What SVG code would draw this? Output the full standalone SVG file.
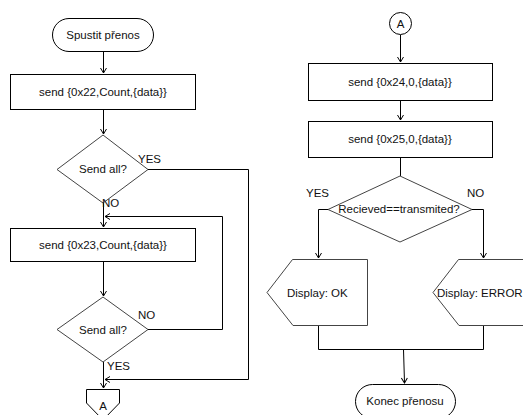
<svg xmlns="http://www.w3.org/2000/svg" width="523" height="415" viewBox="0 0 523 415">
<style>
  .shape { fill: #ffffff; stroke: #000000; stroke-width: 1; }
  .dia { fill: #ffffff; stroke: #444444; stroke-width: 1; }
  .line { fill: none; stroke: #000000; stroke-width: 1; }
  text { font-family: "Liberation Sans", Arial, sans-serif; font-size: 11.5px; fill: #111111; }
  .c { text-anchor: middle; }
</style>
<defs>
  <marker id="arr" markerWidth="8" markerHeight="8" refX="6" refY="4" orient="auto" markerUnits="userSpaceOnUse">
    <path d="M1,1 L6,4 L1,7" fill="none" stroke="#000" stroke-width="1"/>
  </marker>
</defs>
<rect width="523" height="415" fill="#ffffff"/>
<g id="connectors">
  <path class="line" d="M103.5,52 V73" marker-end="url(#arr)"/>
  <path class="line" d="M103.5,110 V134" marker-end="url(#arr)"/>
  <path class="line" d="M103.5,203 V227" marker-end="url(#arr)"/>
  <path class="line" d="M103.5,262 V296" marker-end="url(#arr)"/>
  <path class="line" d="M148,329.5 H222.5 V216.5 H105" marker-end="url(#arr)"/>
  <path class="line" d="M148,169.5 H248.5 V379.5 H105" marker-end="url(#arr)"/>
  <path class="line" d="M103.5,362 V388" marker-end="url(#arr)"/>
  <path class="line" d="M400.5,35 V62" marker-end="url(#arr)"/>
  <path class="line" d="M400.5,100 V120" marker-end="url(#arr)"/>
  <path class="line" d="M400.5,157 V176"/>
  <path class="line" d="M328,209.5 H318.5 V258" marker-end="url(#arr)"/>
  <path class="line" d="M472,209.5 H483.5 V258" marker-end="url(#arr)"/>
  <path class="line" d="M318.5,325 V349.5 H483.5 V325"/>
  <path class="line" d="M403.5,349.5 L404.5,383" marker-end="url(#arr)"/>
</g>
<g id="start">
  <rect class="shape" x="52.5" y="18.5" width="101" height="33" rx="16.5" ry="16.5"/>
  <text class="c" x="103" y="39">Spustit přenos</text>
</g>
<g id="send22">
  <rect class="shape" x="10.5" y="74.5" width="185" height="35"/>
  <text class="c" x="103" y="96">send {0x22,Count,{data}}</text>
</g>
<g id="dec1">
  <polygon class="dia" points="103,135 148,169.5 103,203 57,169.5"/>
  <text class="c" x="103" y="173">Send all?</text>
  <text x="138" y="163">YES</text>
  <text x="102" y="207">NO</text>
</g>
<g id="send23">
  <rect class="shape" x="10.5" y="228.5" width="185" height="33"/>
  <text class="c" x="103" y="249">send {0x23,Count,{data}}</text>
</g>
<g id="dec2">
  <polygon class="dia" points="103,297 148,329.5 103,362 57,329.5"/>
  <text class="c" x="103" y="334">Send all?</text>
  <text x="138" y="319">NO</text>
  <text x="107" y="370">YES</text>
</g>
<g id="offpageA">
  <polygon class="shape" points="86.5,389.5 119.5,389.5 119.5,403 103,420 86.5,403"/>
  <text class="c" x="103" y="410">A</text>
</g>
<g id="connA">
  <circle class="shape" cx="400.5" cy="23.5" r="11"/>
  <text class="c" x="400.5" y="27.5">A</text>
</g>
<g id="send24">
  <rect class="shape" x="308.5" y="63.5" width="184" height="37"/>
  <text class="c" x="400" y="86">send {0x24,0,{data}}</text>
</g>
<g id="send25">
  <rect class="shape" x="308.5" y="121.5" width="184" height="36"/>
  <text class="c" x="400" y="143">send {0x25,0,{data}}</text>
</g>
<g id="dec3">
  <polygon class="dia" points="400,176 472,209.5 400,242 328,209.5"/>
  <text class="c" x="399" y="213">Recieved==transmited?</text>
  <text x="306" y="197">YES</text>
  <text x="467" y="197">NO</text>
</g>
<g id="dispOK">
  <polygon class="dia" points="292.5,259.5 367.5,259.5 367.5,325.5 293,325.5 267,292.5"/>
  <text x="287" y="297">Display: OK</text>
</g>
<g id="dispERR">
  <polygon class="dia" points="458.5,259.5 540,259.5 540,325.5 459,325.5 433,292.5"/>
  <text x="437" y="297">Display: ERROR</text>
</g>
<g id="end">
  <rect class="shape" x="355.5" y="384.5" width="100" height="34" rx="17" ry="17"/>
  <text class="c" x="405" y="405">Konec přenosu</text>
</g>
</svg>
